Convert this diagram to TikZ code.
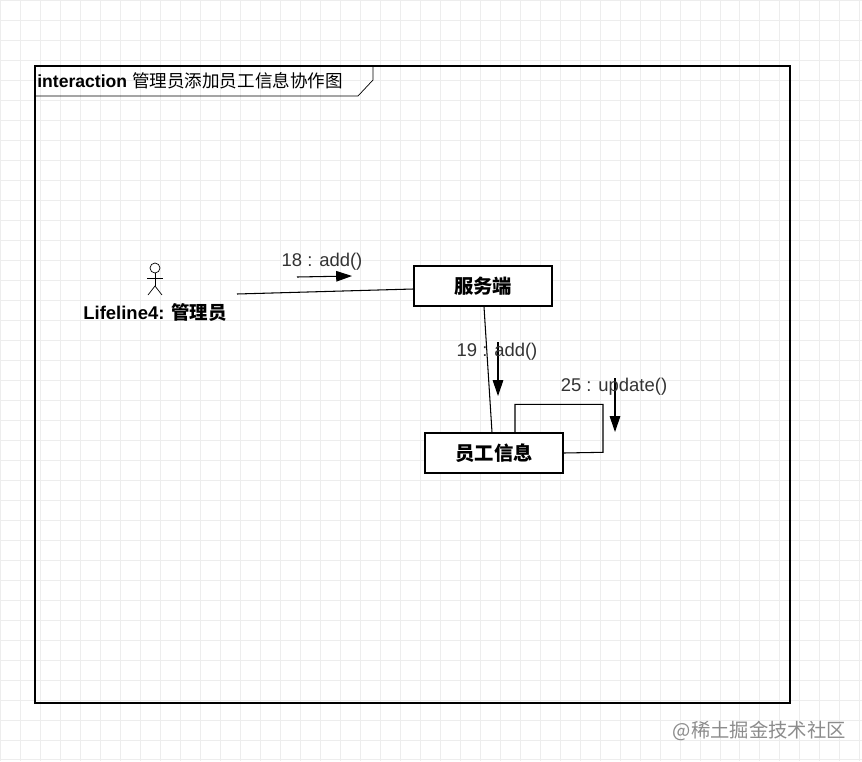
\documentclass[tikz,border=0pt]{standalone}
\usepackage{fontspec}
\setmainfont{Liberation Sans}
\newfontfamily\cjk{Noto Sans CJK SC}
\usetikzlibrary{arrows, arrows.meta}
\usetikzlibrary{calc}

\begin{document}
\begin{tikzpicture}[x = 0.02cm, y = -0.02cm,
  objbox/.style = {draw, thick, fill = white, minimum width = 2.76cm, minimum height = 0.8cm, font = \cjk\fontsize{11}{13}\selectfont\bfseries},
  msg/.style = {font = \fontsize{10.5}{12}\selectfont, text = black!80},
  call/.style = {semithick, -{Triangle[length = 9pt, width = 6pt]}}]

% background grid
\useasboundingbox (0,0) rectangle (862,761);
\fill[white] (0,0) rectangle (862,761);
\draw[black!7, step = 0.4cm] (0,0) grid (862,761);

% frame
\draw[thick] (35,66) rectangle (790,703);
\draw (35,96) -- (358,96) -- (373,80) -- (373,66);
\node(title) at (37,81) [anchor = west, inner sep = 0pt, font = \fontsize{10}{12}\selectfont]{\textbf{interaction} \cjk 管理员添加员工信息协作图};

% actor
\draw (155,268) circle (5);
\draw (155,273) -- (155,286);
\draw (147,278) -- (163,278);
\draw (148,295) -- (155,286) -- (162,295);
\node(actor) at (155,313) [font = \fontsize{10.5}{12}\selectfont\bfseries]{Lifeline4: \cjk 管理员};
\coordinate(A) at (237,294);

% objects
\node(server) at (483,286) [objbox]{服务端};
\node(staff) at (494,453) [objbox]{员工信息};

% links
\draw[semithick] (A) -- ($(server.west)+(0,3)$);
\draw[semithick] ($(server.south)+(1,0)$) -- ($(staff.north)+(-2,0)$);
\draw[semithick] (staff.north) ++(21,0) coordinate(L1) -- ++(0,-28) -- ++(88,0) -- ++(0,48) -- (staff.east);

% messages
\coordinate(m1a) at (297,277); \coordinate(m1b) at (352,276);
\draw[call] (m1a) -- (m1b);
\node(m1) at (322,262) [msg]{18 : add()};
\coordinate(m2a) at (498,342); \coordinate(m2b) at (498,396);
\draw[call] (m2a) -- (m2b);
\node(m2) at (497,352) [msg]{19 : add()};
\coordinate(m3a) at (615,378); \coordinate(m3b) at (615,432);
\draw[call] (m3a) -- (m3b);
\node(m3) at (614,387) [msg]{25 : update()};

% watermark
\node(wm) at (852,731) [anchor = east, text = black!45, font = \cjk\fontsize{11}{13}\selectfont]{@稀土掘金技术社区};

\end{tikzpicture}
\end{document}
